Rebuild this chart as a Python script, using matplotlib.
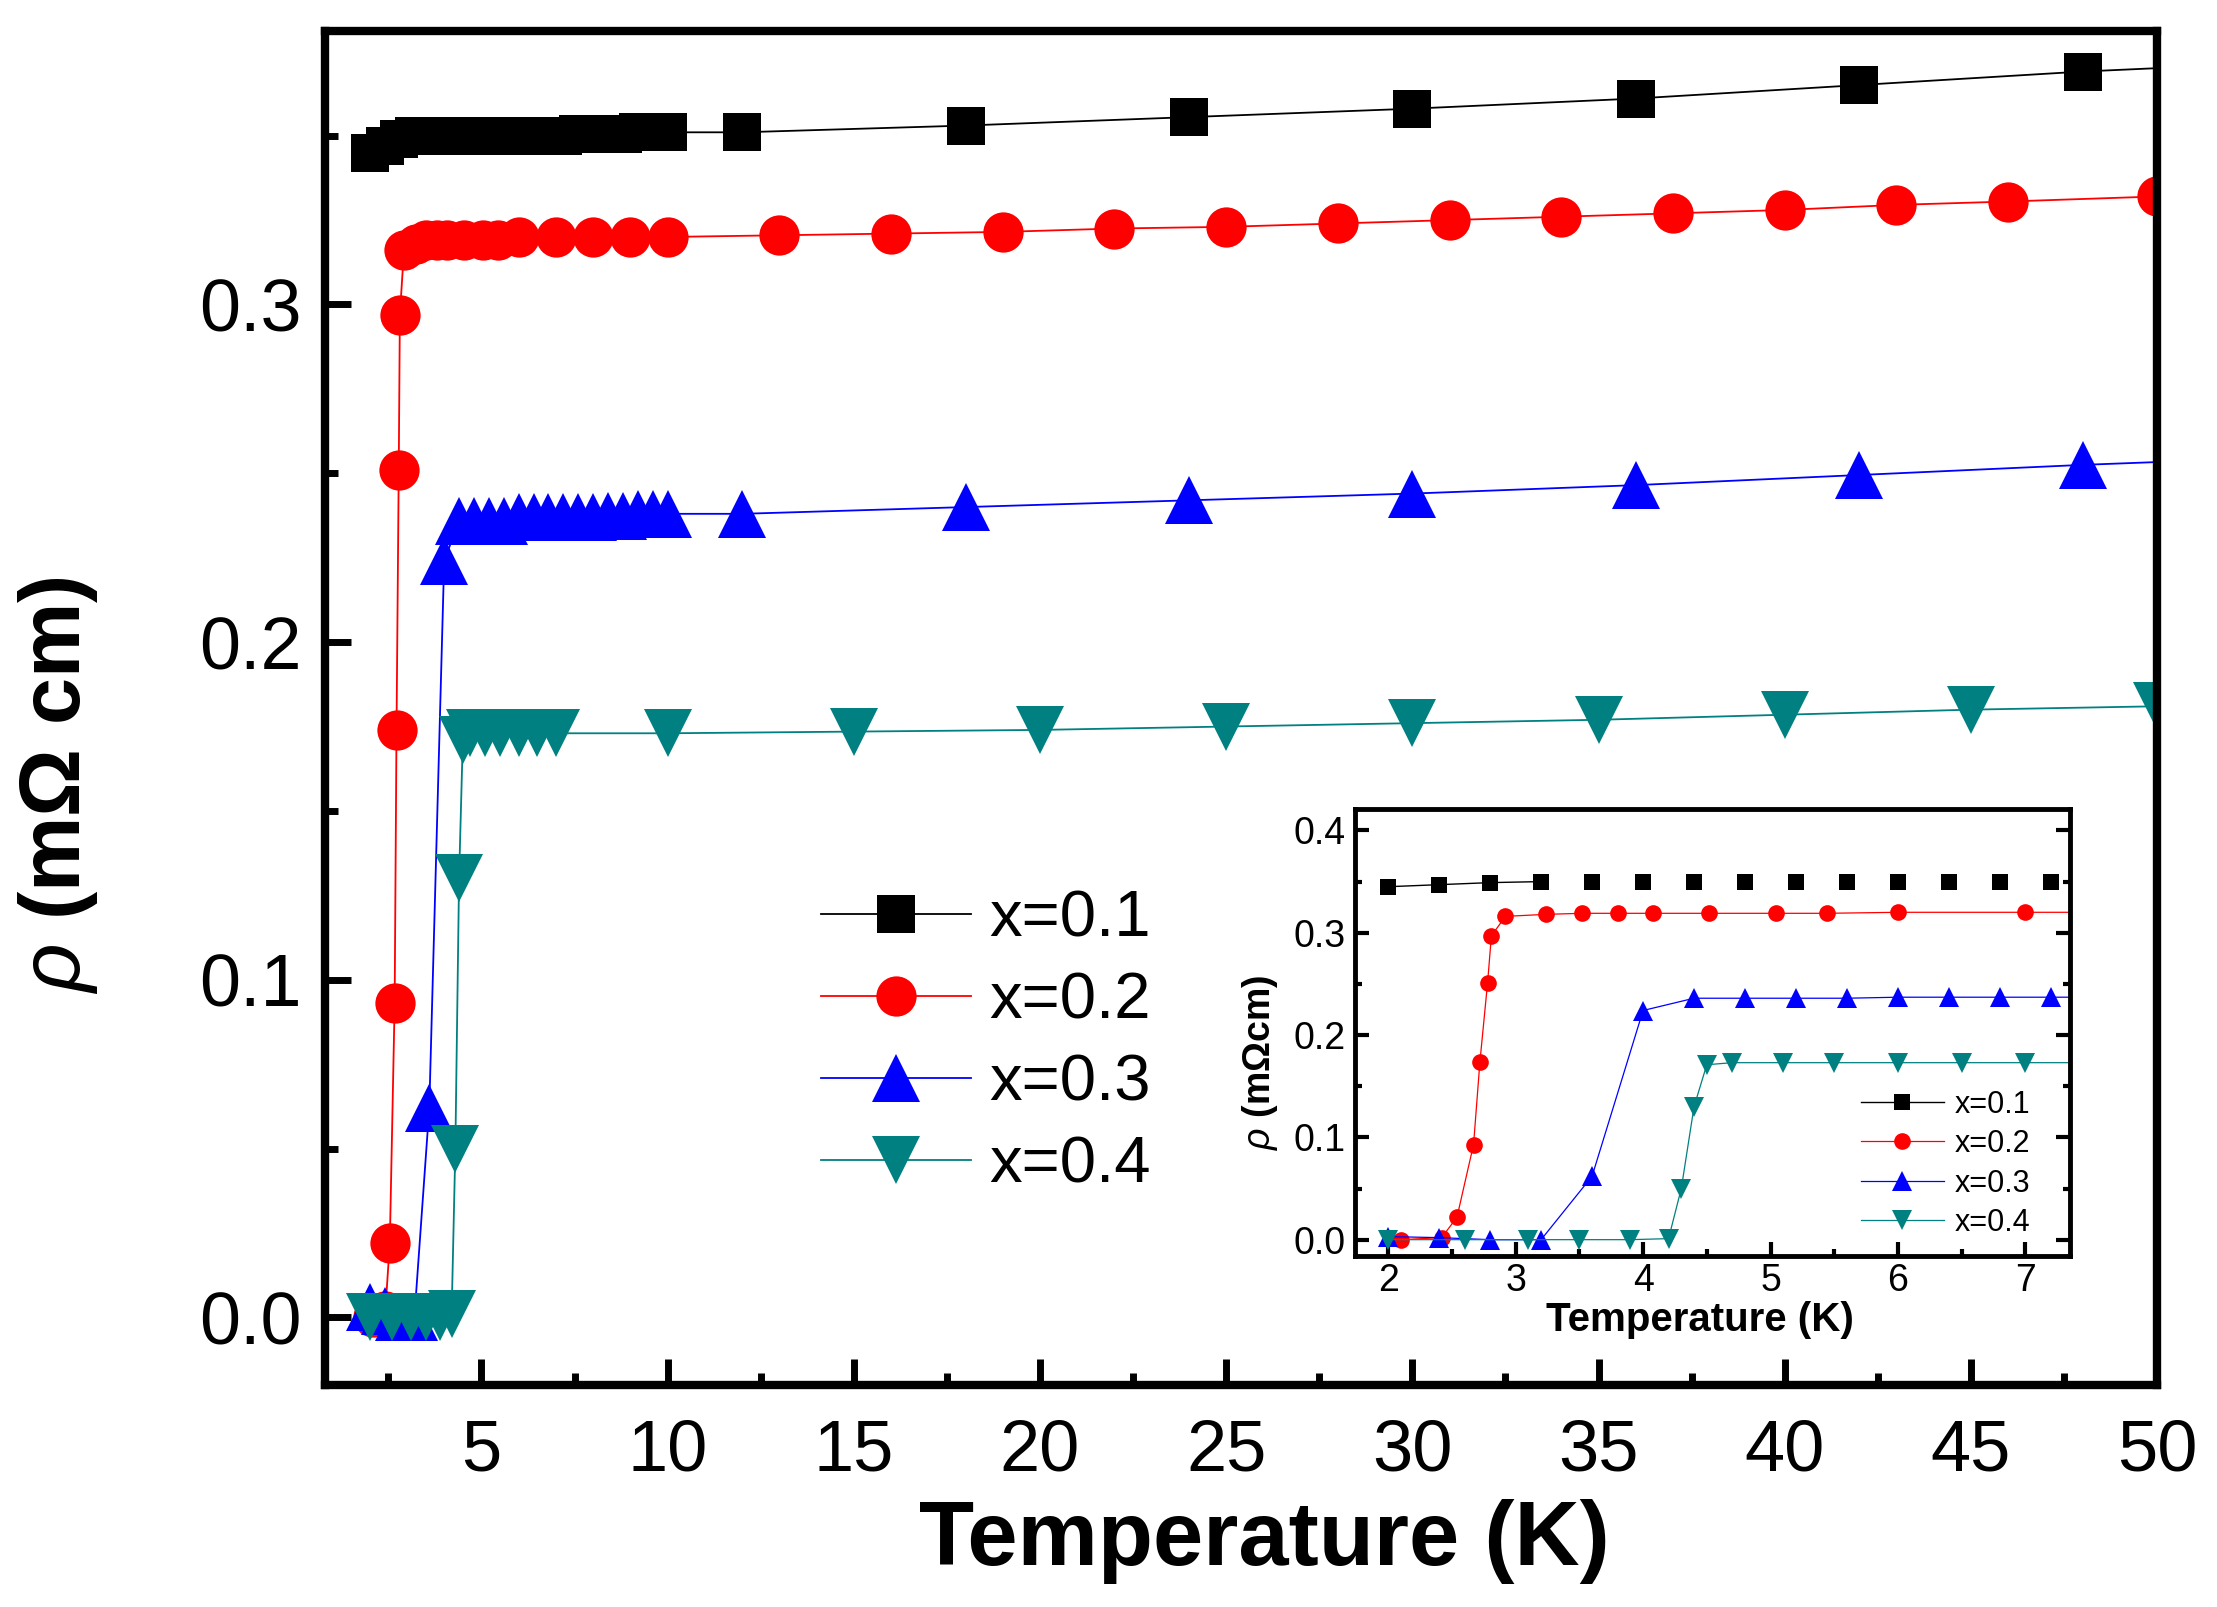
import matplotlib
matplotlib.use('Agg')
import matplotlib.pyplot as plt
from matplotlib.ticker import MultipleLocator, FormatStrFormatter

plt.rcParams['font.family'] = ['Liberation Sans', 'DejaVu Sans']
plt.rcParams['mathtext.fontset'] = 'custom'
plt.rcParams['mathtext.it'] = 'Liberation Sans:italic'
plt.rcParams['mathtext.rm'] = 'Liberation Sans'
plt.rcParams['mathtext.bf'] = 'Liberation Sans:bold'

# ---------------- data ----------------
labels = ['x=0.1', 'x=0.2', 'x=0.3', 'x=0.4']
colors = ['#000000', '#FF0000', '#0000FF', '#008080']
markers = ['s', 'o', '^', 'v']

T_x01 = [2.0, 2.4, 2.8, 3.2, 3.6, 4.0, 4.4, 4.8, 5.2, 5.6, 6.0, 6.4, 6.8, 7.2,
         7.6, 8.0, 8.4, 8.8, 9.2, 9.6, 10.0, 12, 18, 24, 30, 36, 42, 48, 54]
rho_x01 = [0.345, 0.347, 0.349, 0.350, 0.350, 0.350, 0.350, 0.350, 0.350, 0.350,
           0.350, 0.350, 0.350, 0.350, 0.3505, 0.3505, 0.3505, 0.3505, 0.351,
           0.351, 0.351, 0.351, 0.353, 0.3555, 0.358, 0.361, 0.365, 0.369, 0.372]

T_x02 = [2.1, 2.42, 2.54, 2.67, 2.72, 2.78, 2.81, 2.92, 3.24, 3.52, 3.80, 4.08,
         4.52, 5.04, 5.44, 6.0, 7.0, 8.0, 9.0, 10.0, 13, 16, 19, 22, 25, 28, 31,
         34, 37, 40, 43, 46, 50]
rho_x02 = [0.000, 0.002, 0.022, 0.093, 0.174, 0.251, 0.297, 0.316, 0.318, 0.319,
           0.319, 0.319, 0.319, 0.319, 0.319, 0.320, 0.320, 0.320, 0.320, 0.320,
           0.3205, 0.321, 0.3215, 0.3225, 0.323, 0.324, 0.325, 0.326, 0.327,
           0.328, 0.3295, 0.3305, 0.332]

T_x03 = [2.0, 2.4, 2.8, 3.2, 3.6, 4.0, 4.4, 4.8, 5.2, 5.6, 6.0, 6.4, 6.8, 7.2,
         7.6, 8.0, 8.4, 8.8, 9.2, 9.6, 10.0, 12, 18, 24, 30, 36, 42, 48, 54]
rho_x03 = [0.003, 0.002, 0.000, 0.000, 0.062, 0.224, 0.236, 0.236, 0.236, 0.236,
           0.237, 0.237, 0.237, 0.237, 0.237, 0.237, 0.2375, 0.2375, 0.238, 0.238,
           0.238, 0.238, 0.240, 0.242, 0.244, 0.2465, 0.2495, 0.2525, 0.255]

T_x04 = [2.0, 2.6, 3.1, 3.5, 3.9, 4.2, 4.3, 4.4, 4.5, 4.7, 5.1, 5.5, 6.0, 6.5,
         7.0, 10, 15, 20, 25, 30, 35, 40, 45, 50]
rho_x04 = [0.0, 0.0, 0.0, 0.0, 0.0, 0.001, 0.050, 0.130, 0.171, 0.173, 0.173,
           0.173, 0.173, 0.173, 0.173, 0.173, 0.1735, 0.174, 0.175, 0.176, 0.177,
           0.1785, 0.180, 0.181]

main_xticks = [5, 10, 15, 20, 25, 30, 35, 40, 45, 50]
main_yticks = [0.0, 0.1, 0.2, 0.3]
inset_xticks = [2, 3, 4, 5, 6, 7]
inset_yticks = [0.0, 0.1, 0.2, 0.3, 0.4]

series = [(T_x01, rho_x01), (T_x02, rho_x02), (T_x03, rho_x03), (T_x04, rho_x04)]

# ---------------- figure ----------------
fig = plt.figure(figsize=(22.17, 16.07), dpi=100)
ax = fig.add_axes([0.1466, 0.1382, 0.8264, 0.8425])

main_ms = [27, 29, 35, 35]
for (T, r), lab, c, m, ms in zip(series, labels, colors, markers, main_ms):
    ax.plot(T, r, color=c, marker=m, markersize=ms, markeredgewidth=0,
            linewidth=1.3, label=lab)

ax.set_xlim(0.8, 50)
ax.set_ylim(-0.02, 0.381)
ax.set_xticks(main_xticks)
ax.set_yticks(main_yticks)
ax.xaxis.set_minor_locator(MultipleLocator(2.5))
ax.yaxis.set_minor_locator(MultipleLocator(0.05))
ax.yaxis.set_major_formatter(FormatStrFormatter('%.1f'))
ax.tick_params(which='both', direction='in', top=False, right=False, width=5)
ax.tick_params(which='major', length=19)
ax.tick_params(which='minor', length=9)
ax.tick_params(axis='x', which='major', labelsize=52, pad=24)
ax.tick_params(axis='y', which='major', labelsize=53, pad=17)
for sp in ax.spines.values():
    sp.set_linewidth(6)

ax.legend(loc='upper left', bbox_to_anchor=(0.2707, 0.366), frameon=False,
          fontsize=47, handlelength=2.3, handletextpad=0.28,
          labelspacing=0.34, borderpad=0, borderaxespad=0)

fig.text(1264 / 2217, 1 - 1565 / 1607, 'Temperature (K)', fontsize=65,
         fontweight='bold', ha='center', va='baseline')
fig.text(80 / 2217, 1 - 785 / 1607, '$\\rho$ (mΩ cm)', fontsize=61,
         fontweight='bold', ha='center', va='baseline', rotation=90,
         rotation_mode='anchor')

# ---------------- inset ----------------
axi = fig.add_axes([0.6112, 0.2184, 0.3225, 0.2782])
inset_ms = [11, 12, 14, 14]
for i, ((T, r), lab, c, m, ms) in enumerate(zip(series, labels, colors, markers, inset_ms)):
    if i == 0:
        axi.plot(T[:4], r[:4], color=c, linewidth=1.0)
        axi.plot(T, r, color=c, marker=m, markersize=ms, markeredgewidth=0,
                 linestyle='none')
        axi.plot([], [], color=c, marker=m, markersize=ms, markeredgewidth=0,
                 linewidth=1.0, label=lab)
    else:
        axi.plot(T, r, color=c, marker=m, markersize=ms, markeredgewidth=0,
                 linewidth=0.9, label=lab)

axi.set_xlim(1.74, 7.35)
axi.set_ylim(-0.016, 0.421)
axi.set_xticks(inset_xticks)
axi.set_yticks(inset_yticks)
axi.xaxis.set_minor_locator(MultipleLocator(0.5))
axi.yaxis.set_minor_locator(MultipleLocator(0.05))
axi.yaxis.set_major_formatter(FormatStrFormatter('%.1f'))
axi.tick_params(which='both', direction='in', top=False, right=True, width=3)
axi.tick_params(which='major', length=10, labelsize=27, pad=7)
axi.tick_params(axis='x', which='major', pad=5)
axi.tick_params(which='minor', length=5)
for sp in axi.spines.values():
    sp.set_linewidth(3.5)

axi.legend(loc='upper left', bbox_to_anchor=(0.708, 0.372), frameon=False,
           fontsize=22, handlelength=2.7, handletextpad=0.36,
           labelspacing=0.31, borderpad=0, borderaxespad=0)

fig.text(1700 / 2217, 1 - 1331 / 1607, 'Temperature (K)', fontsize=29,
         fontweight='bold', ha='center', va='baseline')
fig.text(1270 / 2217, 1 - 1062 / 1607, '$\\rho$ (mΩcm)', fontsize=27,
         fontweight='bold', ha='center', va='baseline', rotation=90,
         rotation_mode='anchor')

fig.savefig('out.png', dpi=100)
